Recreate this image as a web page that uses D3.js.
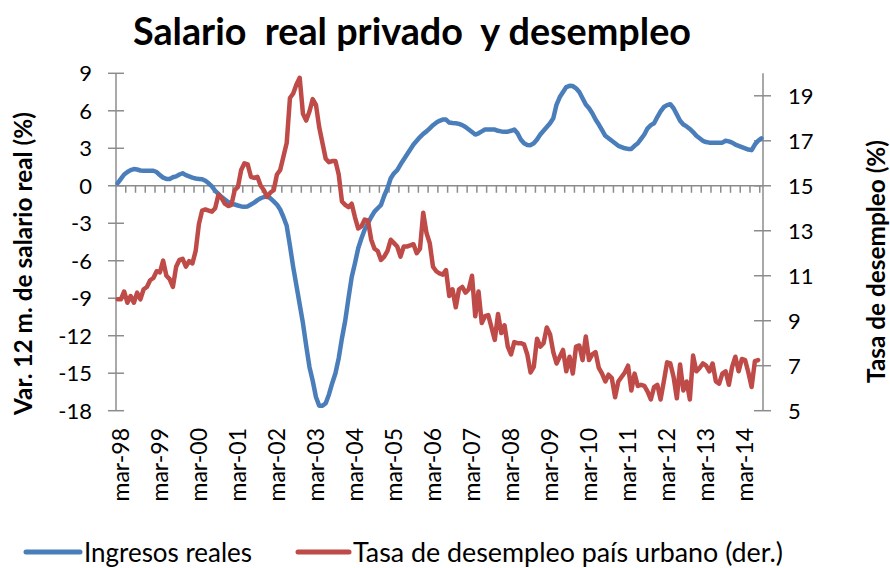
<!DOCTYPE html>
<html>
<head>
<meta charset="utf-8">
<script src="https://cdn.jsdelivr.net/npm/d3@7"></script>
<style>
  body { margin: 0; background: #fff; }
  text { font-family: Lato, "Open Sans", sans-serif; fill: #000; }
</style>
</head>
<body>
<svg id="chart" width="890" height="568"></svg>
<script>
// months run from feb-98 to aug-14 (199 monthly points)
var monthNames = ["ene", "feb", "mar", "abr", "may", "jun", "jul", "ago", "sep", "oct", "nov", "dic"];
var startYear = 1998, startMonth = 1, nMonths = 199;

var xTickLabels = ["mar-98", "mar-99", "mar-00", "mar-01", "mar-02", "mar-03", "mar-04", "mar-05",
  "mar-06", "mar-07", "mar-08", "mar-09", "mar-10", "mar-11", "mar-12", "mar-13", "mar-14"];
var leftTicks = [9, 6, 3, 0, -3, -6, -9, -12, -15, -18];
var rightTicks = [19, 17, 15, 13, 11, 9, 7, 5];

// Var. 12 m. salario real (%), left axis
var ingresos = [
  0.2, 0.55, 0.9, 1.1, 1.25, 1.34, 1.3, 1.22, 1.2, 1.2,
  1.2, 1.2, 1.1, 0.85, 0.65, 0.55, 0.55, 0.68, 0.75, 0.9,
  1.0, 0.85, 0.75, 0.65, 0.58, 0.55, 0.52, 0.4, 0.2, -0.05,
  -0.4, -0.65, -0.9, -1.1, -1.3, -1.45, -1.5, -1.58, -1.65, -1.67,
  -1.65, -1.5, -1.35, -1.15, -1.0, -0.9, -0.85, -1.0, -1.25, -1.5,
  -1.9, -2.5, -3.2, -4.8, -6.5, -8.0, -9.5, -11.0, -12.8, -14.5,
  -15.6, -16.9, -17.6, -17.6, -17.4, -16.7, -15.8, -15.0, -13.8, -12.2,
  -10.8, -9.0, -7.3, -6.2, -5.0, -4.2, -3.5, -3.0, -2.5, -2.07,
  -1.8, -1.54, -0.8, -0.2, 0.6, 1.0, 1.25, 1.7, 2.1, 2.5,
  2.9, 3.3, 3.6, 3.9, 4.15, 4.35, 4.6, 4.85, 5.05, 5.2,
  5.3, 5.3, 5.06, 5.02, 5.0, 4.95, 4.85, 4.7, 4.5, 4.3,
  4.1, 4.2, 4.35, 4.5, 4.5, 4.5, 4.5, 4.4, 4.35, 4.33,
  4.33, 4.4, 4.5, 4.2, 3.7, 3.4, 3.27, 3.25, 3.4, 3.7,
  4.1, 4.4, 4.7, 5.0, 5.4, 6.5, 7.1, 7.5, 7.9, 8.0,
  7.98, 7.8, 7.5, 7.0, 6.5, 6.2, 5.8, 5.3, 4.9, 4.45,
  4.0, 3.8, 3.6, 3.4, 3.2, 3.1, 3.0, 2.95, 2.95, 3.2,
  3.4, 3.75, 4.1, 4.6, 4.85, 5.0, 5.5, 5.95, 6.3, 6.45,
  6.52, 6.2, 5.7, 5.2, 4.9, 4.75, 4.55, 4.3, 4.0, 3.8,
  3.6, 3.5, 3.45, 3.45, 3.45, 3.45, 3.45, 3.6, 3.55, 3.45,
  3.3, 3.2, 3.1, 3.0, 2.9, 2.85, 3.3, 3.6, 3.8
];

// Tasa de desempleo (%), right axis
var desempleo = [
  9.95, 9.95, 10.3, 9.8, 10.1, 9.8, 10.25, 9.95, 10.4, 10.5,
  10.8, 10.9, 11.2, 11.15, 11.67, 11.0, 10.85, 10.5, 11.4, 11.7,
  11.75, 11.4, 11.65, 11.55, 12.1, 13.3, 13.9, 13.95, 13.9, 13.85,
  14.0, 14.6, 14.45, 14.2, 14.1, 14.15, 14.8, 14.95, 15.7, 16.0,
  15.95, 15.4, 15.35, 15.4, 15.0, 14.8, 14.5, 14.7, 14.8, 15.5,
  15.7, 16.3, 16.9, 18.9, 19.1, 19.5, 19.8, 18.2, 17.9, 18.3,
  18.85, 18.6, 17.6, 16.9, 16.2, 16.05, 16.1, 16.1, 15.5, 14.3,
  14.15, 14.05, 14.2, 13.6, 13.1, 13.2, 13.5, 13.45, 12.6, 12.2,
  12.1, 11.7, 11.85, 12.1, 12.6, 12.45, 12.3, 11.85, 12.3, 12.3,
  12.35, 12.4, 12.0, 12.2, 13.8, 12.9, 12.45, 11.4, 11.2, 11.1,
  11.05, 11.25, 10.1, 10.4, 9.6, 10.4, 10.5, 10.25, 10.4, 11.0,
  9.2, 10.3, 8.9, 9.2, 9.25, 8.7, 8.15, 9.3, 8.45, 8.8,
  7.85, 7.5, 8.05, 8.0, 8.0, 7.95, 7.5, 6.7, 6.95, 8.2,
  7.85, 8.0, 8.7, 8.4, 7.6, 7.1, 7.4, 7.7, 6.75, 7.4,
  6.65, 7.85, 7.9, 7.25, 8.3, 7.25, 7.5, 7.6, 6.9, 6.65,
  6.3, 6.6, 6.45, 5.6, 6.3, 6.5, 6.7, 7.0, 5.9, 6.65,
  6.1, 6.15, 6.1, 5.85, 5.5, 6.05, 6.15, 5.5, 6.3, 7.15,
  7.1, 6.5, 5.55, 7.05, 5.9, 6.3, 5.5, 7.45, 6.75, 6.9,
  7.1, 7.0, 6.75, 7.1, 6.3, 6.2, 6.65, 6.75, 6.15, 6.95,
  7.4, 6.75, 7.3, 7.25, 6.7, 6.05, 7.2, 7.25
];

var months = [];
for (var i = 0; i < nMonths; i++) {
  var m = startMonth + i;
  var yy = (startYear + Math.floor(m / 12)) % 100;
  months.push(monthNames[m % 12] + "-" + (yy < 10 ? "0" + yy : yy));
}

var svg = d3.select("#chart");
var plotLeft = 116, plotRight = 763, plotTop = 73.3, plotBottom = 410.7;
var axisColor = "#8c8c8c";

var x = d3.scaleBand().domain(months).range([plotLeft, plotRight]);
var yL = d3.scaleLinear().domain([-18, 9]).range([plotBottom, plotTop]);
var yR = d3.scaleLinear().domain([5, 20]).range([plotBottom, plotTop]);
var cx = function(d) { return x(d) + x.bandwidth() / 2; };

// Title (keeps the double spaces of the original)
svg.append("text")
    .attr("x", 133).attr("y", 45)
    .attr("textLength", 558).attr("lengthAdjust", "spacingAndGlyphs")
    .style("font-size", "38px").style("font-weight", "bold")
    .style("white-space", "pre")
    .text("Salario  real privado  y desempleo");

// Left axis
var gL = svg.append("g");
gL.append("line")
    .attr("x1", plotLeft).attr("x2", plotLeft).attr("y1", plotTop).attr("y2", plotBottom)
    .attr("stroke", axisColor).attr("stroke-width", 1.5);
gL.selectAll(".tk").data(leftTicks).enter().append("line")
    .attr("x1", plotLeft - 8).attr("x2", plotLeft + 8)
    .attr("y1", function(d) { return yL(d); }).attr("y2", function(d) { return yL(d); })
    .attr("stroke", axisColor).attr("stroke-width", 1.5);
gL.selectAll("text").data(leftTicks).enter().append("text")
    .attr("x", 92).attr("y", function(d) { return yL(d); })
    .attr("dy", "0.36em").attr("text-anchor", "end")
    .style("font-size", "22px")
    .text(function(d) { return d; });

// Right axis
var gR = svg.append("g");
gR.append("line")
    .attr("x1", plotRight).attr("x2", plotRight).attr("y1", plotTop).attr("y2", plotBottom)
    .attr("stroke", axisColor).attr("stroke-width", 1.5);
gR.selectAll(".tk").data(rightTicks).enter().append("line")
    .attr("x1", plotRight - 9).attr("x2", plotRight + 8)
    .attr("y1", function(d) { return yR(d); }).attr("y2", function(d) { return yR(d); })
    .attr("stroke", axisColor).attr("stroke-width", 1.5);
gR.selectAll("text").data(rightTicks).enter().append("text")
    .attr("x", 788).attr("y", function(d) { return yR(d); })
    .attr("dy", "0.36em")
    .style("font-size", "22px")
    .text(function(d) { return d; });

// Category axis sits on zero, ticks every 3 months
var y0 = yL(0);
var tickIdx = d3.range(3, nMonths, 3);
var gX = svg.append("g");
gX.append("line")
    .attr("x1", plotLeft).attr("x2", plotRight).attr("y1", y0).attr("y2", y0)
    .attr("stroke", axisColor).attr("stroke-width", 1.5);
gX.selectAll("line.tk").data(tickIdx).enter().append("line")
    .attr("class", "tk")
    .attr("x1", function(d) { return x(months[d]); }).attr("x2", function(d) { return x(months[d]); })
    .attr("y1", y0).attr("y2", y0 + 7)
    .attr("stroke", axisColor).attr("stroke-width", 1.5);
gX.selectAll("text").data(xTickLabels).enter().append("text")
    .attr("transform", function(d) { return "translate(" + cx(d) + ",428) rotate(-90)"; })
    .attr("dy", "0.36em").attr("text-anchor", "end")
    .style("font-size", "23px")
    .text(function(d) { return d; });

// Axis titles
svg.append("text")
    .attr("transform", "translate(31.5,263.5) rotate(-90)")
    .attr("text-anchor", "middle")
    .attr("textLength", 303).attr("lengthAdjust", "spacingAndGlyphs")
    .style("font-size", "24px").style("font-weight", "bold")
    .text("Var. 12 m. de salario real (%)");
svg.append("text")
    .attr("transform", "translate(885,261.5) rotate(-90)")
    .attr("text-anchor", "middle")
    .attr("textLength", 243).attr("lengthAdjust", "spacingAndGlyphs")
    .style("font-size", "24px").style("font-weight", "bold")
    .text("Tasa de desempleo (%)");

// Lines
var lineL = d3.line()
    .x(function(d, i) { return cx(months[i]); })
    .y(function(d) { return yL(d); });
var lineR = d3.line()
    .x(function(d, i) { return cx(months[i]); })
    .y(function(d) { return yR(d); });

svg.append("path").datum(ingresos)
    .attr("d", lineL).attr("fill", "none")
    .attr("stroke", "#4a7ebb").attr("stroke-width", 4.5)
    .attr("stroke-linejoin", "round").attr("stroke-linecap", "round");
svg.append("path").datum(desempleo)
    .attr("d", lineR).attr("fill", "none")
    .attr("stroke", "#be4b48").attr("stroke-width", 4.5)
    .attr("stroke-linejoin", "round").attr("stroke-linecap", "round");

// Legend
var legend = [
  { name: "Ingresos reales", color: "#4a7ebb", x1: 26, x2: 80, tx: 84, tw: 168 },
  { name: "Tasa de desempleo país urbano (der.)", color: "#be4b48", x1: 298, x2: 349, tx: 353, tw: 430 }
];
var lg = svg.selectAll(".legend").data(legend).enter().append("g");
lg.append("line")
    .attr("x1", function(d) { return d.x1; }).attr("x2", function(d) { return d.x2; })
    .attr("y1", 552).attr("y2", 552)
    .attr("stroke", function(d) { return d.color; }).attr("stroke-width", 5)
    .attr("stroke-linecap", "round");
lg.append("text")
    .attr("x", function(d) { return d.tx; }).attr("y", 562)
    .attr("textLength", function(d) { return d.tw; }).attr("lengthAdjust", "spacingAndGlyphs")
    .style("font-size", "26px")
    .text(function(d) { return d.name; });
</script>
</body>
</html>
